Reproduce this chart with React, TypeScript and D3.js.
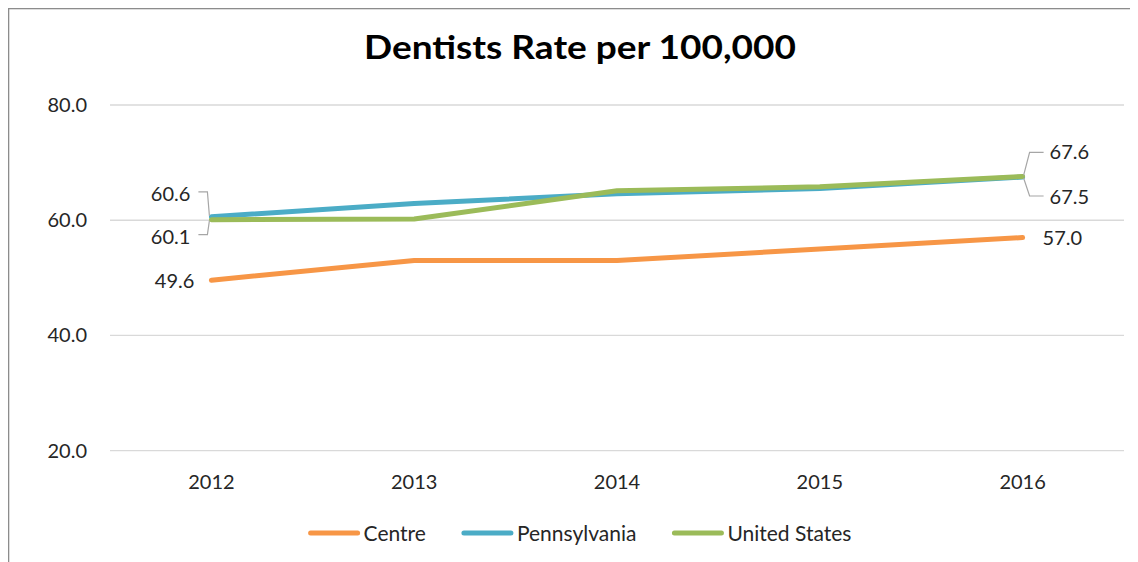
import React, { useEffect, useRef } from "react";
import * as d3 from "d3";

const years = ["2012", "2013", "2014", "2015", "2016"];
const centre = [49.6, 53.0, 53.0, 55.0, 57.0];
const pennsylvania = [60.6, 62.9, 64.6, 65.5, 67.5];
const unitedStates = [60.1, 60.2, 65.1, 65.8, 67.6];
const yTicks = [20, 40, 60, 80];
const seriesNames = ["Centre", "Pennsylvania", "United States"];
const seriesColors = ["#F79646", "#4BACC6", "#9BBB59"];
const title = "Dentists Rate per 100,000";

const W = 1130;
const H = 554;
const FONT = "Lato, 'Open Sans', sans-serif";

export default function App() {
  const ref = useRef<SVGSVGElement>(null);

  useEffect(() => {
    const svg = d3.select(ref.current);
    svg.selectAll("*").remove();
    // work in page coordinates (svg is placed at 8,8 by body margin)
    const g = svg.append("g").attr("transform", "translate(-8,-8)");

    // outer chart frame
    g.append("rect")
      .attr("x", 8.5).attr("y", 8.5)
      .attr("width", 1200).attr("height", 700)
      .attr("fill", "#fff").attr("stroke", "#8c8c8c").attr("stroke-width", 1.6);

    const x = d3.scalePoint<string>().domain(years).range([110, 1124]).padding(0.5);
    const y = d3.scaleLinear().domain([20, 80]).range([450.7, 105]);

    // title
    g.append("text")
      .attr("x", 580).attr("y", 59)
      .attr("text-anchor", "middle")
      .attr("font-family", FONT).attr("font-weight", 700).attr("font-size", 33)
      .attr("textLength", 432).attr("lengthAdjust", "spacingAndGlyphs")
      .attr("fill", "#000")
      .text(title);

    // gridlines
    g.append("g").selectAll("line").data(yTicks).join("line")
      .attr("x1", 110).attr("x2", 1124)
      .attr("y1", d => y(d)).attr("y2", d => y(d))
      .attr("stroke", "#d9d9d9").attr("stroke-width", 1.3);

    // y tick labels
    g.append("g").selectAll("text").data(yTicks).join("text")
      .attr("x", 87).attr("y", d => y(d) + 7)
      .attr("text-anchor", "end")
      .attr("font-family", FONT).attr("font-size", 20).attr("fill", "#262626")
      .text(d => d.toFixed(1));

    // x tick labels
    g.append("g").selectAll("text").data(years).join("text")
      .attr("x", d => x(d)!).attr("y", 489)
      .attr("text-anchor", "middle")
      .attr("font-family", FONT).attr("font-size", 20).attr("fill", "#262626")
      .text(d => d);

    const series = [centre, pennsylvania, unitedStates];
    const line = d3.line<number>()
      .x((_, i) => x(years[i])!)
      .y(d => y(d));

    series.forEach((vals, si) => {
      g.append("path")
        .attr("d", line(vals))
        .attr("fill", "none")
        .attr("stroke", seriesColors[si])
        .attr("stroke-width", 5)
        .attr("stroke-linecap", "round")
        .attr("stroke-linejoin", "round");
    });

    const labelStyle = (t: d3.Selection<SVGTextElement, unknown, null, undefined>) =>
      t.attr("font-family", FONT).attr("font-size", 20).attr("fill", "#262626");

    const first = 0, last = years.length - 1;
    const x0 = x(years[first])!, x4 = x(years[last])!;
    const leader = "#a6a6a6";

    // Centre labels
    labelStyle(g.append("text").attr("x", x0 - 17).attr("y", y(centre[first]) + 8).attr("text-anchor", "end").text(centre[first].toFixed(1)));
    labelStyle(g.append("text").attr("x", x4 + 20).attr("y", y(centre[last]) + 7).attr("text-anchor", "start").text(centre[last].toFixed(1)));

    // Pennsylvania 2012 label (above) with leader
    const pa0 = y(pennsylvania[first]);
    labelStyle(g.append("text").attr("x", x0 - 21).attr("y", pa0 - 16).attr("text-anchor", "end").text(pennsylvania[first].toFixed(1)));
    g.append("path").attr("d", `M${x0 - 13},${pa0 - 25} H${x0 - 4} L${x0 - 2},${pa0 - 1}`)
      .attr("fill", "none").attr("stroke", leader).attr("stroke-width", 1.2);

    // US 2012 label (below) with leader
    const us0 = y(unitedStates[first]);
    labelStyle(g.append("text").attr("x", x0 - 21).attr("y", us0 + 24).attr("text-anchor", "end").text(unitedStates[first].toFixed(1)));
    g.append("path").attr("d", `M${x0 - 13},${us0 + 15} H${x0 - 4} L${x0 - 2},${us0 + 1}`)
      .attr("fill", "none").attr("stroke", leader).attr("stroke-width", 1.2);

    // US 2016 label (above) with leader
    const us4 = y(unitedStates[last]);
    labelStyle(g.append("text").attr("x", x4 + 27).attr("y", us4 - 17).attr("text-anchor", "start").text(unitedStates[last].toFixed(1)));
    g.append("path").attr("d", `M${x4 + 1},${us4 - 1} L${x4 + 7},${us4 - 24} H${x4 + 21}`)
      .attr("fill", "none").attr("stroke", leader).attr("stroke-width", 1.2);

    // PA 2016 label (below) with leader
    const pa4 = y(pennsylvania[last]);
    labelStyle(g.append("text").attr("x", x4 + 27).attr("y", pa4 + 27).attr("text-anchor", "start").text(pennsylvania[last].toFixed(1)));
    g.append("path").attr("d", `M${x4 + 1},${pa4 + 1} L${x4 + 7},${pa4 + 19} H${x4 + 21}`)
      .attr("fill", "none").attr("stroke", leader).attr("stroke-width", 1.2);

    // legend
    const leg = g.append("g");
    let cx = 0;
    const gap = 36;
    seriesNames.forEach((name, i) => {
      const lx = cx;
      leg.append("line")
        .attr("x1", lx + 2).attr("x2", lx + 49)
        .attr("y1", 533).attr("y2", 533)
        .attr("stroke", seriesColors[i]).attr("stroke-width", 5).attr("stroke-linecap", "round");
      const t = leg.append("text")
        .attr("x", lx + 55).attr("y", 541)
        .attr("font-family", FONT).attr("font-size", 21).attr("fill", "#262626")
        .text(name);
      const w = (t.node() as SVGTextElement).getComputedTextLength();
      cx = lx + 55 + w + gap;
    });
    const total = cx - gap;
    leg.attr("transform", `translate(${580 - total / 2},0)`);
  }, []);

  return (
    <svg ref={ref} width={W} height={H} style={{ display: "block" }} />
  );
}
